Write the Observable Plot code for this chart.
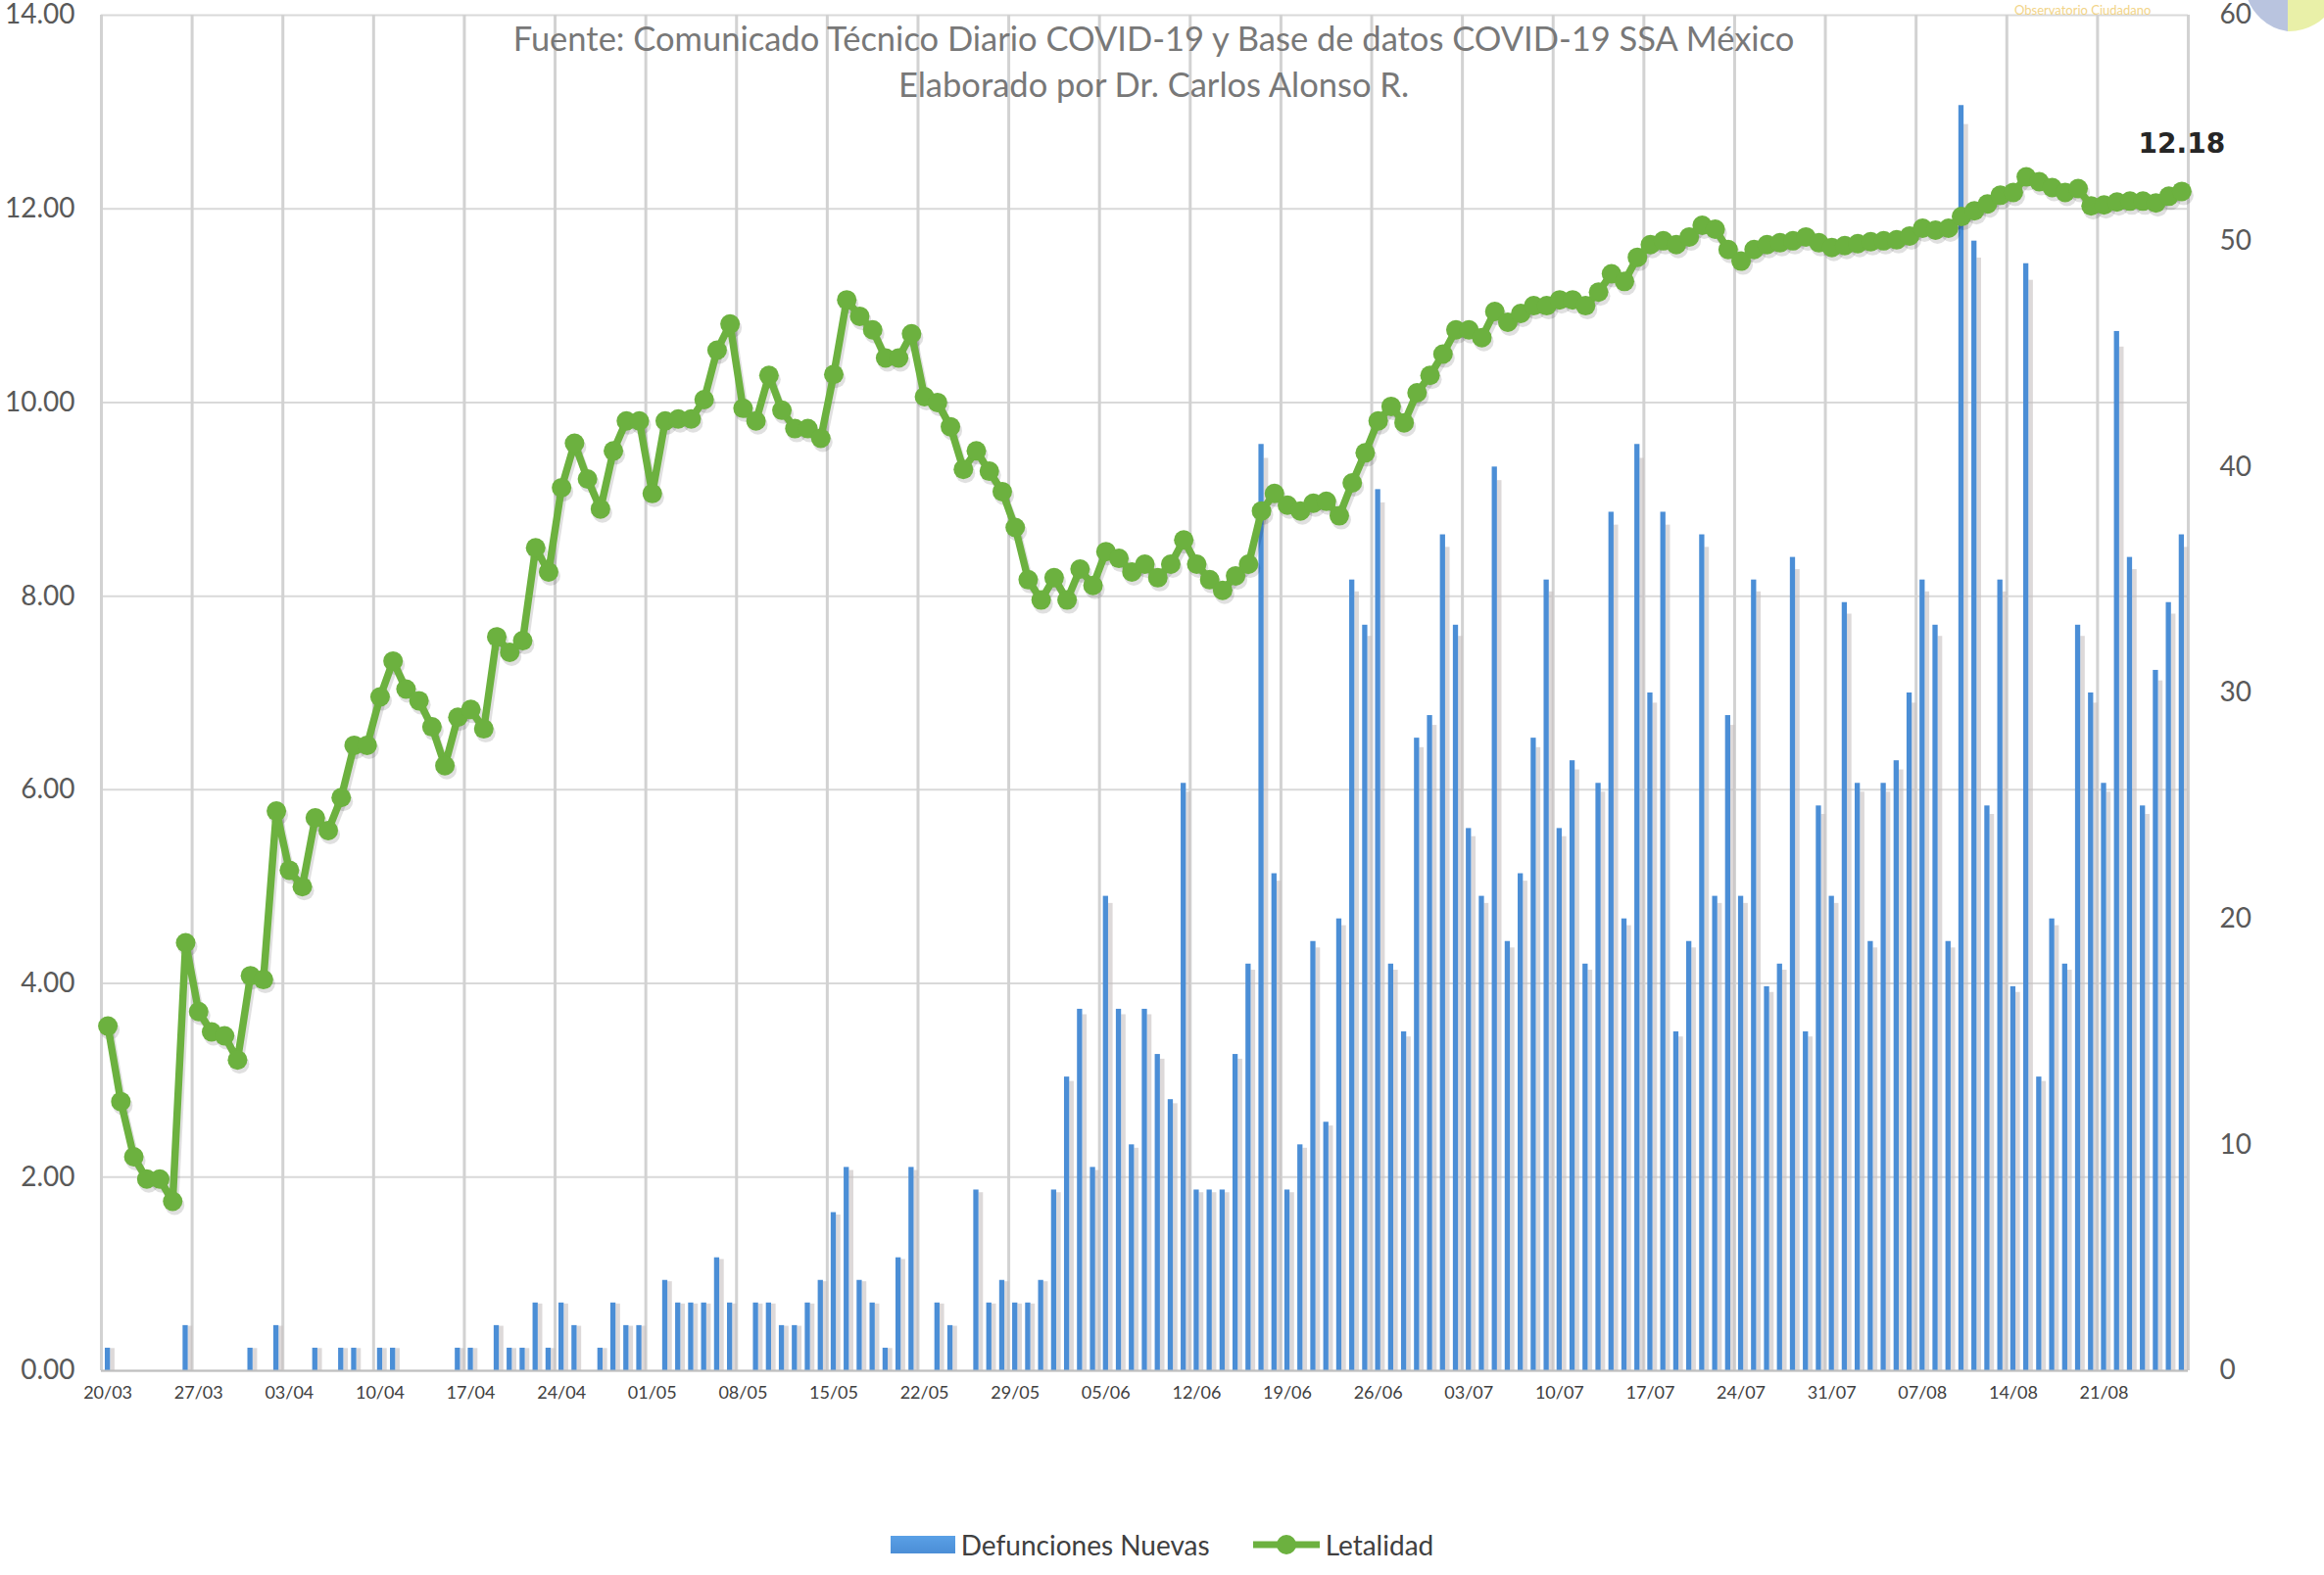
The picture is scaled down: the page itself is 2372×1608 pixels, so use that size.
<!DOCTYPE html>
<html>
<head>
<meta charset="utf-8">
<script src="https://cdn.jsdelivr.net/npm/d3@7"></script>
<script src="https://cdn.jsdelivr.net/npm/@observablehq/plot@0.6"></script>
<style>
  html, body { margin: 0; padding: 0; background: #fff; }
  body { width: 2372px; height: 1608px; position: relative; overflow: hidden; font-family: Lato, "Open Sans", sans-serif; }
  #chart { position: absolute; left: 0; top: 0; }
  #legend { position: absolute; left: 0; top: 1560px; width: 2372px; height: 34px;
            display: flex; justify-content: center; align-items: center; font-size: 28px; color: #404040; }
  #legend .item { display: flex; align-items: center; }
  #logo { position: absolute; right: 0; top: 0; }
</style>
</head>
<body>
<div id="chart"></div>
<div id="legend"></div>
<svg id="logo" width="320" height="40">
  <text x="4" y="15" font-size="13" fill="#f2d488" font-family="Lato">Observatorio Ciudadano</text>
  <clipPath id="lc"><rect x="0" y="0" width="320" height="40"/></clipPath>
  <g clip-path="url(#lc)">
    <path d="M283,-20 L240,-8 A52,52 0 0 0 283,32 Z" fill="#b9c4df"/>
    <path d="M283,-20 L283,32 A52,52 0 0 0 330,5 Z" fill="#e9f0a8"/>
    <path d="M283,-20 L330,5 A52,52 0 0 0 300,-70 Z" fill="#f2a3b3"/>
  </g>
</svg>
<script>
// ---- data ----
const fechas = [
  "20/03","21/03","22/03","23/03","24/03","25/03","26/03","27/03","28/03","29/03","30/03","31/03",
  "01/04","02/04","03/04","04/04","05/04","06/04","07/04","08/04","09/04","10/04","11/04","12/04","13/04","14/04","15/04",
  "16/04","17/04","18/04","19/04","20/04","21/04","22/04","23/04","24/04","25/04","26/04","27/04","28/04","29/04","30/04",
  "01/05","02/05","03/05","04/05","05/05","06/05","07/05","08/05","09/05","10/05","11/05","12/05","13/05","14/05","15/05",
  "16/05","17/05","18/05","19/05","20/05","21/05","22/05","23/05","24/05","25/05","26/05","27/05","28/05","29/05","30/05","31/05",
  "01/06","02/06","03/06","04/06","05/06","06/06","07/06","08/06","09/06","10/06","11/06","12/06","13/06","14/06","15/06",
  "16/06","17/06","18/06","19/06","20/06","21/06","22/06","23/06","24/06","25/06","26/06","27/06","28/06","29/06","30/06",
  "01/07","02/07","03/07","04/07","05/07","06/07","07/07","08/07","09/07","10/07","11/07","12/07","13/07","14/07","15/07",
  "16/07","17/07","18/07","19/07","20/07","21/07","22/07","23/07","24/07","25/07","26/07","27/07","28/07","29/07","30/07","31/07",
  "01/08","02/08","03/08","04/08","05/08","06/08","07/08","08/08","09/08","10/08","11/08","12/08","13/08","14/08","15/08",
  "16/08","17/08","18/08","19/08","20/08","21/08","22/08","23/08","24/08","25/08","26/08","27/08"
];

const defunciones = [
  1,0,0,0,0,0,2,0,0,0,
  0,1,0,2,0,0,1,0,1,1,
  0,1,1,0,0,0,0,1,1,0,
  2,1,1,3,1,3,2,0,1,3,
  2,2,0,4,3,3,3,5,3,0,
  3,3,2,2,3,4,7,9,4,3,
  1,5,9,0,3,2,0,8,3,4,
  3,3,4,8,13,16,9,21,16,10,
  16,14,12,26,8,8,8,14,18,41,
  22,8,10,19,11,20,35,33,39,18,
  15,28,29,37,33,24,21,40,19,22,
  28,35,24,27,18,26,38,20,41,30,
  38,15,19,37,21,29,21,35,17,18,
  36,15,25,21,34,26,19,26,27,30,
  35,33,19,56,50,25,35,17,49,13,
  20,18,33,30,26,46,36,25,31,34,
  37
];

const letalidad = [
  3.56,2.78,2.21,1.98,1.98,1.75,4.42,3.71,3.50,3.46,
  3.21,4.08,4.04,5.78,5.17,5.00,5.71,5.58,5.92,6.46,
  6.46,6.96,7.33,7.04,6.92,6.65,6.25,6.75,6.83,6.63,
  7.58,7.42,7.54,8.50,8.25,9.12,9.58,9.21,8.90,9.50,
  9.81,9.81,9.06,9.81,9.83,9.83,10.03,10.54,10.81,9.94,
  9.81,10.28,9.92,9.73,9.73,9.63,10.29,11.06,10.89,10.75,
  10.46,10.46,10.71,10.06,10.00,9.75,9.31,9.50,9.29,9.08,
  8.71,8.17,7.96,8.19,7.96,8.28,8.11,8.46,8.39,8.25,
  8.33,8.19,8.33,8.58,8.33,8.17,8.06,8.21,8.33,8.88,
  9.06,8.94,8.88,8.96,8.98,8.83,9.17,9.48,9.81,9.96,
  9.79,10.10,10.28,10.50,10.75,10.75,10.67,10.94,10.83,10.92,
  11.00,11.00,11.06,11.06,11.00,11.14,11.33,11.25,11.50,11.63,
  11.67,11.63,11.71,11.83,11.79,11.58,11.46,11.58,11.63,11.65,
  11.67,11.71,11.65,11.60,11.62,11.64,11.66,11.67,11.68,11.72,
  11.80,11.78,11.80,11.92,11.98,12.05,12.14,12.17,12.33,12.28,
  12.22,12.17,12.21,12.03,12.04,12.07,12.08,12.08,12.06,12.13,
  12.18
];

const etiquetasX = ["20/03","27/03","03/04","10/04","17/04","24/04","01/05","08/05","15/05","22/05","29/05",
  "05/06","12/06","19/06","26/06","03/07","10/07","17/07","24/07","31/07","07/08","14/08","21/08"];
const ticksIzq = [0, 2, 4, 6, 8, 10, 12, 14];
const ticksDer = [0, 10, 20, 30, 40, 50, 60];
const titulo1 = "Fuente: Comunicado Técnico Diario COVID-19 y Base de datos COVID-19 SSA México";
const titulo2 = "Elaborado por Dr. Carlos Alonso R.";
const serieBarras = "Defunciones Nuevas";
const serieLinea = "Letalidad";

// ---- build ----
const BLUE = "#4b8ed6";
const GREEN = "#6cb13f";
const k = 14 / 60; // right axis (deaths) -> left axis units
const rows = fechas.map((f, i) => ({i, fecha: f, let: letalidad[i], def: defunciones[i]}));
const barRows = rows.filter(d => d.def > 0);
const tickIdx = etiquetasX.map(e => fechas.indexOf(e));
const gridX = d3.range(0, fechas.length + 1, 7).map(j => j - 0.5);
const last = rows[rows.length - 1];

const chart = Plot.plot({
  width: 2372,
  height: 1460,
  marginLeft: 103,
  marginRight: 139,
  marginTop: 15,
  marginBottom: 61,
  x: {domain: [-0.5, fechas.length - 0.5]},
  y: {domain: [0, 14]},
  style: {fontFamily: "Lato, 'Open Sans', sans-serif", background: "#fff", overflow: "visible"},
  marks: [
    Plot.ruleY(ticksIzq, {stroke: "#d9d9d9", strokeWidth: 2}),
    Plot.ruleX(gridX, {stroke: "#d2d2d2", strokeWidth: 3}),
    Plot.rectY(barRows, {x1: d => d.i + 0.2, x2: d => d.i + 0.55, y1: 0, y2: d => d.def * k * 0.985, fill: "#c7bfbf", fillOpacity: 0.6}),
    Plot.rectY(barRows, {x1: d => d.i - 0.2, x2: d => d.i + 0.2, y1: 0, y2: d => d.def * k, fill: BLUE}),
    Plot.ruleY([0], {stroke: "#bfbfbf", strokeWidth: 2}),
    Plot.line(rows, {x: "i", y: "let", stroke: "#000", strokeOpacity: 0.12, strokeWidth: 8, dx: 2, dy: 4}),
    Plot.dot(rows, {x: "i", y: "let", r: 10, fill: "#000", fillOpacity: 0.12, dx: 2, dy: 4}),
    Plot.line(rows, {x: "i", y: "let", stroke: GREEN, strokeWidth: 7.5}),
    Plot.dot(rows, {x: "i", y: "let", r: 10, fill: GREEN}),
    Plot.text([last], {x: "i", y: "let", text: d => d.let.toFixed(2), dy: -48, fontSize: 28, fontWeight: "bold",
      fontFamily: "'DejaVu Sans', sans-serif", fill: "#262626"}),
    Plot.axisY(ticksIzq, {anchor: "left", tickSize: 0, tickPadding: 27, tickFormat: d => d.toFixed(2),
      fontSize: 28, fill: "#595959", label: null}),
    Plot.axisY(ticksDer.map(v => v * k), {anchor: "right", tickSize: 0, tickPadding: 32,
      tickFormat: d => String(Math.round(d / k)), fontSize: 28, fill: "#595959", label: null}),
    Plot.axisX(tickIdx, {anchor: "bottom", tickSize: 0, tickPadding: 16, tickFormat: i => fechas[i],
      fontSize: 18, fill: "#404040", label: null}),
    Plot.text([titulo1], {frameAnchor: "top", dx: 9, dy: 12, fontSize: 34.5, fill: "#787878"}),
    Plot.text([titulo2], {frameAnchor: "top", dx: 9, dy: 59, fontSize: 34.5, fill: "#787878"})
  ]
});
document.getElementById("chart").appendChild(chart);

// ---- legend ----
const legend = document.getElementById("legend");
legend.innerHTML = `
  <div class="item">
    <svg width="66" height="18"><defs><linearGradient id="gb" x1="0" y1="0" x2="0" y2="1">
      <stop offset="0" stop-color="#5aa0e6"/><stop offset="1" stop-color="${BLUE}"/></linearGradient></defs>
      <rect x="0" y="0" width="66" height="18" fill="url(#gb)"/></svg>
    <span style="margin-left:6px">${serieBarras}</span>
  </div>
  <div class="item" style="margin-left:44px">
    <svg width="68" height="24"><line x1="0" y1="12" x2="68" y2="12" stroke="${GREEN}" stroke-width="7"/>
      <circle cx="34" cy="12" r="10" fill="${GREEN}"/></svg>
    <span style="margin-left:6px">${serieLinea}</span>
  </div>`;
</script>
</body>
</html>
